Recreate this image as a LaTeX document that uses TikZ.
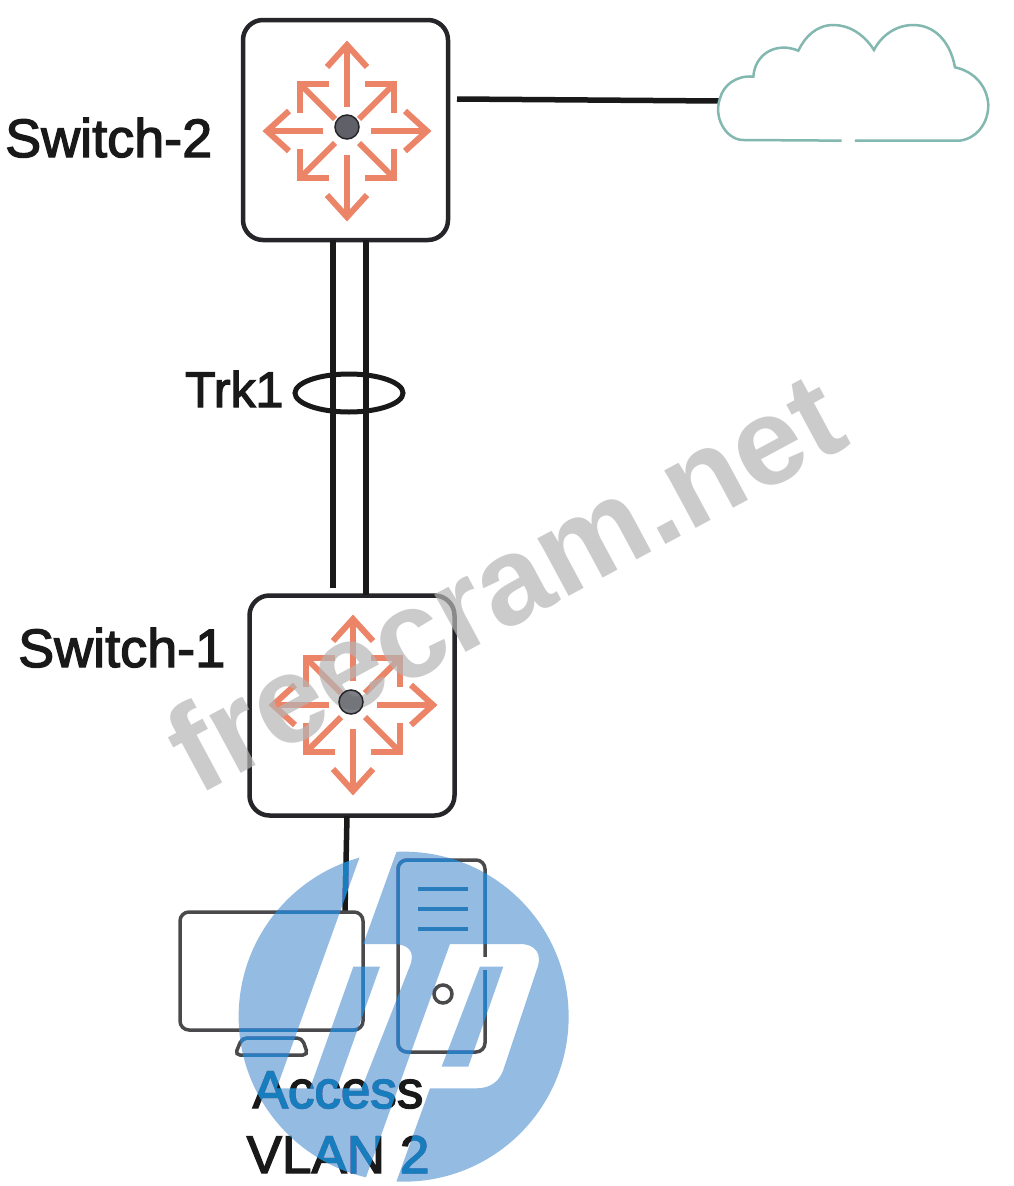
\documentclass[tikz,border=0pt]{standalone}
\usepackage{fontspec}
\usetikzlibrary{shapes.geometric}
\newfontfamily\lblfont[FakeBold=2.5]{Liberation Sans}
\newfontfamily\wmfont{Liberation Sans Bold}
\definecolor{swline}{HTML}{26262a}
\definecolor{arrowred}{HTML}{EC8468}
\definecolor{hubgray}{HTML}{5F6068}
\definecolor{cloudteal}{HTML}{82B8B0}
\definecolor{pcline}{HTML}{4A4A4C}
\definecolor{wmgray}{HTML}{B5B5B5}
\definecolor{hplight}{HTML}{2BAAD6}
\definecolor{hpdark}{HTML}{94BCE2}
\tikzstyle{switchbox}=[rounded corners=20pt, minimum width=205pt, minimum height=220pt, draw=swline, line width=4.5pt, inner sep=0pt]
\tikzstyle{hub}=[circle, minimum size=24pt, inner sep=0pt, draw=swline, line width=1.5pt, fill=hubgray]
\tikzstyle{link}=[draw=black!90, line width=6.5pt]
\tikzstyle{label}=[font=\lblfont\fontsize{54}{65}\selectfont, text=black!90, inner sep=0pt]
\tikzstyle{pcbox}=[rounded corners=9pt, draw=pcline, line width=3.5pt, inner sep=0pt]
\tikzstyle{arrowline}=[draw=arrowred, line width=6pt]

% eight arrows round one centre
\newcommand{\routerarrows}[1]{
\begin{scope}[shift={(#1)}]
\foreach \a/\b in {0/80, 90/86, 180/80, 270/86} {
  \begin{scope}[rotate=\a]
  \draw [arrowline] (24,0) -- (\b,0);
  \draw [arrowline] (\b-22,20) -- (\b,0) -- (\b-22,-20);
  \draw [arrowline] (12,12) -- (47,47);
  \draw [arrowline] (47,18) -- (47,47) -- (18,47);
  \end{scope}
}
\end{scope}
}
% the white letters of the logo, with the rest of its square round them
\newcommand{\hpshape}{
  (200,-20) rectangle (1260,1060)
  (621,-10) -- (726,-10) -- (610,312) -- (700,312) .. controls (745,312) and (768,335) .. (749,380) -- (605,745) -- (530,745) -- (660,380) -- (580,380) -- (450,745) -- (350,745) -- cycle
  (870,312) -- (1080,312) .. controls (1125,312) and (1150,340) .. (1130,390) -- (1030,690) .. controls (1018,725) and (990,745) .. (950,745) -- (810,745) -- (702,1045) -- (606,1045) -- cycle
  (960,380) -- (1030,380) -- (925,680) -- (845,680) -- cycle
}

\begin{document}
\begin{tikzpicture}[x=1pt, y=-1pt]

\useasboundingbox (0,0) rectangle (1014,1186);
\fill [white] (0,0) rectangle (1014,1186);

\node [switchbox] (sw2) at (345.5,130) {};
\node [switchbox] (sw1) at (352,705.5) {};
\routerarrows{347,131}
\routerarrows{353,705}

\node [label, anchor=base west] (sw2label) at (5,157) {Switch-2};
\node [label, anchor=base west] (sw1label) at (18,667) {Switch-1};
\node [label, anchor=base west, font=\lblfont\fontsize{50}{65}\selectfont] (trklabel) at (185,407) {Trk1};
\node [label, anchor=base, align=center, font=\lblfont\fontsize{53}{65}\selectfont] (vlanlabel) at (338,1173) {Access\\VLAN 2};

\coordinate (trk2a) at (333,240);
\coordinate (trk2b) at (366,240);
\coordinate (trk1a) at (333,588);
\coordinate (trk1b) at (366,595);
\coordinate (wan2) at (457,99);
\coordinate (wancloud) at (719,101);
\coordinate (sw1port) at (347,816);
\coordinate (pcport) at (345,912);

\draw [link] (trk2a) -- (trk1a);
\draw [link] (trk2b) -- (trk1b);
\node [ellipse, draw=black!90, line width=5pt, minimum width=108pt, minimum height=38pt, inner sep=0pt] (trk) at (349,393) {};
\draw [link, line width=5.5pt] (wan2) -- (wancloud);
\draw [link, line width=5.5pt] (sw1port) -- (pcport);

% cloud
\begin{scope}[shift={(700,10)}, x=0.3333pt, y=-0.3333pt]
\draw [draw=cloudteal, line width=2.5pt] (465,392) -- (780,392) .. controls (830,385) and (865,340) .. (865,285) .. controls (862,230) and (825,185) .. (765,172) .. controls (750,90) and (700,45) .. (640,45) .. controls (590,45) and (545,75) .. (522,120) .. controls (490,70) and (445,45) .. (400,45) .. controls (350,45) and (315,80) .. (295,122) .. controls (230,95) and (165,130) .. (160,200) .. controls (110,195) and (70,225) .. (60,265) .. controls (40,320) and (75,385) .. (125,390) -- (425,392);
\end{scope}

% monitor and tower
\node [pcbox, minimum width=183pt, minimum height=118pt] (monitor) at (271.5,971) {};
\draw [pcbox, rounded corners=5pt] (235,1055) -- (242,1038) -- (302,1038) -- (308,1055) -- cycle;
\node [pcbox, minimum width=87pt, minimum height=192pt] (tower) at (441.5,956) {};
\draw [white, line width=6pt] (485,957) -- (485,970);
\foreach \y in {889, 909, 929} {
  \draw [draw=pcline, line width=3.5pt] (418,\y) -- (468,\y);
}
\node [circle, draw=pcline, line width=3.5pt, minimum size=18pt, inner sep=0pt] (powerled) at (443,994) {};

% logo
\begin{scope}[shift={(160,840)}, x=0.3333pt, y=-0.3333pt]
\clip (731,530) circle [radius=165pt];
\fill [hplight, even odd rule, blend mode=lighten] \hpshape;
\fill [hpdark, even odd rule, blend mode=multiply] \hpshape;
\end{scope}

% watermark
\node [anchor=base west, rotate=28.3, inner sep=0pt, text=wmgray, opacity=0.7, font=\wmfont\fontsize{124}{124}\selectfont] (watermark) at (197,797) {freecram.net};

\node [hub] (hub2) at (347,127) {};
\node [hub, fill opacity=0.8] (hub1) at (351,702) {};

\end{tikzpicture}
\end{document}
